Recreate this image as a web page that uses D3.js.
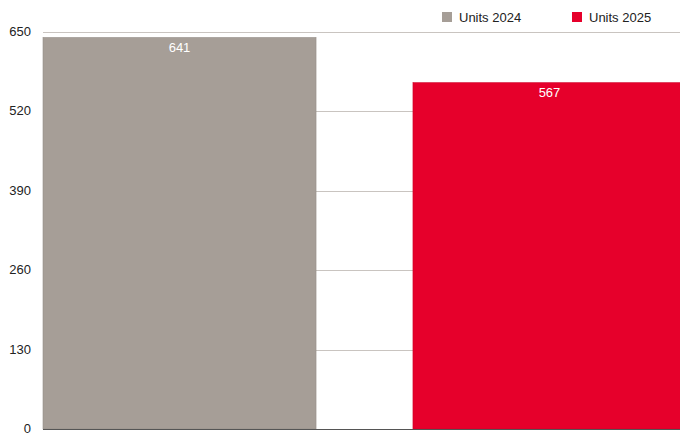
<!DOCTYPE html>
<html>
<head>
<meta charset="utf-8">
<script src="https://cdn.jsdelivr.net/npm/d3@7"></script>
<style>
  body { margin: 0; background: #fff; }
  svg { display: block; font-family: "Liberation Sans", Arial, sans-serif; }
</style>
</head>
<body>
<div id="chart"></div>
<script>
const series = ["Units 2024", "Units 2025"];
const values = [641, 567];
const colors = ["#a69e97", "#e6002b"];
const y_ticks = [0, 130, 260, 390, 520, 650];

const width = 680;
const height = 435;

const margin = { top: 32, right: -6, bottom: 6, left: 43 };

const svg = d3.select("#chart")
  .append("svg")
  .attr("width", width)
  .attr("height", height);

const x = d3.scaleBand()
  .domain(series)
  .range([margin.left, width - margin.right])
  .paddingInner(0.262)
  .paddingOuter(0);

const y = d3.scaleLinear()
  .domain([0, 650])
  .range([height - margin.bottom, margin.top]);

// gridlines
svg.append("g")
  .selectAll("line")
  .data(y_ticks.filter((d) => d > 0))
  .enter()
  .append("line")
  .attr("x1", margin.left)
  .attr("x2", width)
  .attr("y1", (d) => Math.round(y(d)) + 0.5)
  .attr("y2", (d) => Math.round(y(d)) + 0.5)
  .attr("stroke", "#c9c4c0")
  .attr("stroke-width", 1);

// y tick labels
svg.append("g")
  .selectAll("text")
  .data(y_ticks)
  .enter()
  .append("text")
  .attr("x", 31)
  .attr("y", (d) => y(d))
  .attr("dy", "0.3em")
  .attr("text-anchor", "end")
  .attr("font-size", 13)
  .attr("fill", "#222")
  .text((d) => d);

// bars
svg.append("g")
  .selectAll("rect")
  .data(values)
  .enter()
  .append("rect")
  .attr("x", (d, i) => x(series[i]))
  .attr("y", (d) => y(d))
  .attr("width", x.bandwidth())
  .attr("height", (d) => y(0) - y(d))
  .attr("fill", (d, i) => colors[i])
  .attr("stroke", (d, i) => d3.color(colors[i]).darker(0.3))
  .attr("stroke-width", 0.6);

// value labels
svg.append("g")
  .selectAll("text")
  .data(values)
  .enter()
  .append("text")
  .attr("x", (d, i) => x(series[i]) + x.bandwidth() / 2)
  .attr("y", (d) => y(d) + 14.5)
  .attr("text-anchor", "middle")
  .attr("font-size", 13)
  .attr("fill", "#fff")
  .text((d) => d);

// baseline
svg.append("line")
  .attr("x1", margin.left)
  .attr("x2", width)
  .attr("y1", y(0) + 0.5)
  .attr("y2", y(0) + 0.5)
  .attr("stroke", "#555")
  .attr("stroke-width", 1);

// legend
const legend_x = [442, 572];
const legend = svg.append("g")
  .selectAll("g")
  .data(series)
  .enter()
  .append("g")
  .attr("transform", (d, i) => `translate(${legend_x[i]}, 12)`);

legend.append("rect")
  .attr("width", 10)
  .attr("height", 10)
  .attr("fill", (d, i) => colors[i]);

legend.append("text")
  .attr("x", 17)
  .attr("y", 5)
  .attr("dy", "0.35em")
  .attr("font-size", 13)
  .attr("fill", "#222")
  .text((d) => d);
</script>
</body>
</html>
